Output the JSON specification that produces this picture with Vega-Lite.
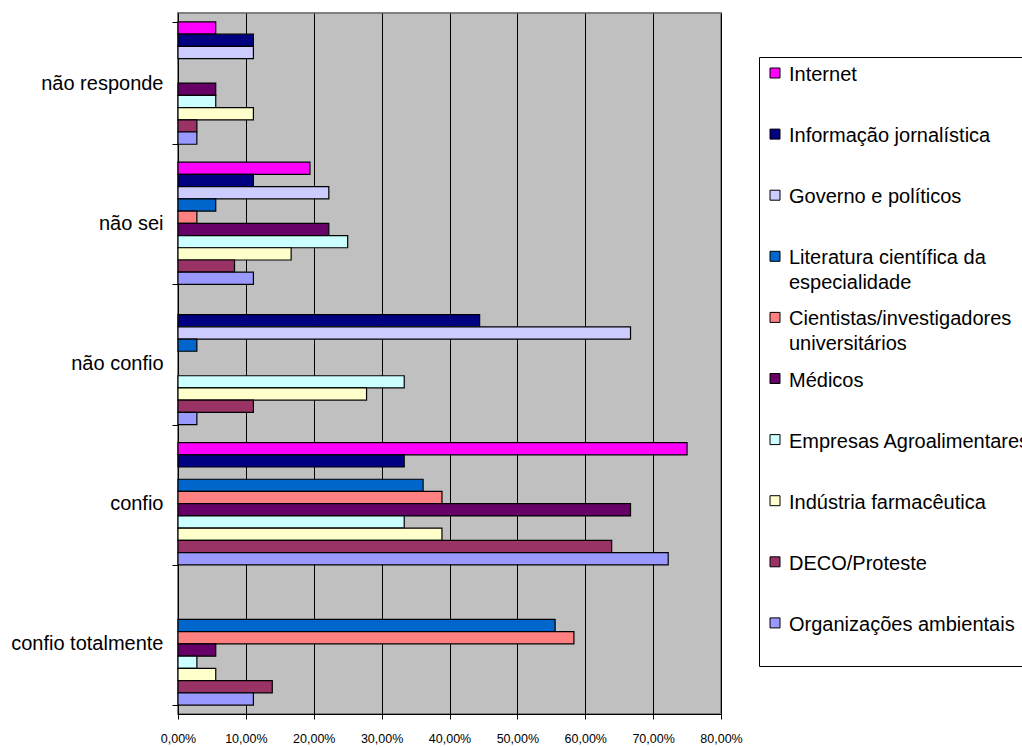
{
  "$schema": "https://vega.github.io/schema/vega-lite/v6.json",
  "width": 543,
  "height": 701,
  "autosize": "none",
  "padding": {"left": 178, "top": 13, "right": 301, "bottom": 33},
  "background": "white",
  "config": {
    "font": "'Liberation Sans', Arial, sans-serif",
    "view": {"fill": "#C0C0C0", "stroke": "#808080", "strokeWidth": 2}
  },
  "data": {
    "values": [
      {"cat": "não responde", "src": "Internet", "v": 0.0556},
      {"cat": "não responde", "src": "Informação jornalística", "v": 0.1111},
      {"cat": "não responde", "src": "Governo e políticos", "v": 0.1111},
      {"cat": "não responde", "src": "Médicos", "v": 0.0556},
      {"cat": "não responde", "src": "Empresas Agroalimentares", "v": 0.0556},
      {"cat": "não responde", "src": "Indústria farmacêutica", "v": 0.1111},
      {"cat": "não responde", "src": "DECO/Proteste", "v": 0.0278},
      {"cat": "não responde", "src": "Organizações ambientais", "v": 0.0278},
      {"cat": "não sei", "src": "Internet", "v": 0.1944},
      {"cat": "não sei", "src": "Informação jornalística", "v": 0.1111},
      {"cat": "não sei", "src": "Governo e políticos", "v": 0.2222},
      {"cat": "não sei", "src": "Literatura científica da especialidade", "v": 0.0556},
      {"cat": "não sei", "src": "Cientistas/investigadores universitários", "v": 0.0278},
      {"cat": "não sei", "src": "Médicos", "v": 0.2222},
      {"cat": "não sei", "src": "Empresas Agroalimentares", "v": 0.25},
      {"cat": "não sei", "src": "Indústria farmacêutica", "v": 0.1667},
      {"cat": "não sei", "src": "DECO/Proteste", "v": 0.0833},
      {"cat": "não sei", "src": "Organizações ambientais", "v": 0.1111},
      {"cat": "não confio", "src": "Informação jornalística", "v": 0.4444},
      {"cat": "não confio", "src": "Governo e políticos", "v": 0.6667},
      {"cat": "não confio", "src": "Literatura científica da especialidade", "v": 0.0278},
      {"cat": "não confio", "src": "Empresas Agroalimentares", "v": 0.3333},
      {"cat": "não confio", "src": "Indústria farmacêutica", "v": 0.2778},
      {"cat": "não confio", "src": "DECO/Proteste", "v": 0.1111},
      {"cat": "não confio", "src": "Organizações ambientais", "v": 0.0278},
      {"cat": "confio", "src": "Internet", "v": 0.75},
      {"cat": "confio", "src": "Informação jornalística", "v": 0.3333},
      {"cat": "confio", "src": "Literatura científica da especialidade", "v": 0.3611},
      {"cat": "confio", "src": "Cientistas/investigadores universitários", "v": 0.3889},
      {"cat": "confio", "src": "Médicos", "v": 0.6667},
      {"cat": "confio", "src": "Empresas Agroalimentares", "v": 0.3333},
      {"cat": "confio", "src": "Indústria farmacêutica", "v": 0.3889},
      {"cat": "confio", "src": "DECO/Proteste", "v": 0.6389},
      {"cat": "confio", "src": "Organizações ambientais", "v": 0.7222},
      {"cat": "confio totalmente", "src": "Literatura científica da especialidade", "v": 0.5556},
      {"cat": "confio totalmente", "src": "Cientistas/investigadores universitários", "v": 0.5833},
      {"cat": "confio totalmente", "src": "Médicos", "v": 0.0556},
      {"cat": "confio totalmente", "src": "Empresas Agroalimentares", "v": 0.0278},
      {"cat": "confio totalmente", "src": "Indústria farmacêutica", "v": 0.0556},
      {"cat": "confio totalmente", "src": "DECO/Proteste", "v": 0.1389},
      {"cat": "confio totalmente", "src": "Organizações ambientais", "v": 0.1111}
    ]
  },
  "mark": {"type": "bar", "stroke": "black", "strokeWidth": 1.2, "opacity": 1},
  "encoding": {
    "y": {
      "field": "cat",
      "type": "nominal",
      "sort": ["não responde", "não sei", "não confio", "confio", "confio totalmente"],
      "scale": {"paddingInner": 0.128, "paddingOuter": 0.064},
      "axis": {
        "title": null,
        "tickBand": "extent",
        "ticks": true,
        "tickSize": 6,
        "tickColor": "black",
        "domainColor": "black",
        "domainWidth": 1,
        "labelFontSize": 20,
        "labelColor": "black",
        "labelPadding": 9,
        "labelLimit": 250,
        "grid": false
      }
    },
    "x": {
      "field": "v",
      "type": "quantitative",
      "scale": {"domain": [0, 0.8], "nice": false},
      "axis": {
        "title": null,
        "values": [0, 0.1, 0.2, 0.3, 0.4, 0.5, 0.6, 0.7, 0.8],
        "labelExpr": "replace(format(datum.value, '.2%'), '.', ',')",
        "grid": true,
        "gridColor": "black",
        "gridOpacity": 1,
        "gridWidth": 1,
        "domainColor": "black",
        "tickColor": "black",
        "tickSize": 5,
        "labelFontSize": 12.5,
        "labelColor": "black",
        "labelPadding": 13,
        "labelFlush": false
      }
    },
    "yOffset": {
      "field": "src",
      "type": "nominal",
      "scale": {
        "domain": ["Internet", "Informação jornalística", "Governo e políticos", "Literatura científica da especialidade", "Cientistas/investigadores universitários", "Médicos", "Empresas Agroalimentares", "Indústria farmacêutica", "DECO/Proteste", "Organizações ambientais"],
        "paddingInner": 0,
        "paddingOuter": 0
      }
    },
    "color": {
      "field": "src",
      "type": "nominal",
      "scale": {
        "domain": ["Internet", "Informação jornalística", "Governo e políticos", "Literatura científica da especialidade", "Cientistas/investigadores universitários", "Médicos", "Empresas Agroalimentares", "Indústria farmacêutica", "DECO/Proteste", "Organizações ambientais"],
        "range": ["#FF00FF", "#000080", "#CCCCFF", "#0066CC", "#FF8080", "#660066", "#CCFFFF", "#FFFFCC", "#993366", "#9999FF"]
      },
      "legend": {
        "title": null,
        "orient": "none",
        "legendX": 581,
        "legendY": 44,
        "direction": "vertical",
        "padding": 6,
        "strokeColor": "black",
        "fillColor": "white",
        "symbolType": "square",
        "symbolSize": 100,
        "symbolStrokeColor": "black",
        "symbolStrokeWidth": 1,
        "symbolOpacity": 1,
        "labelFontSize": 20,
        "labelColor": "black",
        "labelOffset": 4,
        "labelLimit": 400,
        "labelBaseline": "alphabetic",
        "rowPadding": 14.1,
        "labelExpr": "datum.label == 'Literatura científica da especialidade' ? ['Literatura científica da', 'especialidade'] : datum.label == 'Cientistas/investigadores universitários' ? ['Cientistas/investigadores', 'universitários'] : [datum.label, '']",
        "encode": {
          "labels": {"update": {"dy": {"value": 8}, "lineHeight": {"value": 25}}}
        }
      }
    }
  }
}
